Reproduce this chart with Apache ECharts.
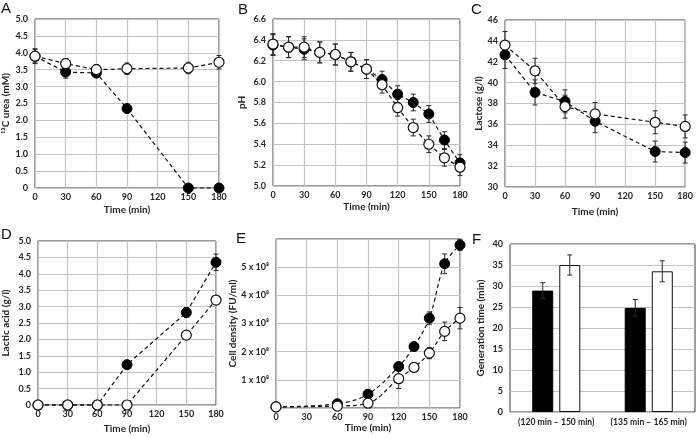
<!DOCTYPE html>
<html><head><meta charset="utf-8">
<script src="https://cdn.jsdelivr.net/npm/echarts@6/dist/echarts.min.js"></script>
<style>html,body{margin:0;padding:0;background:#fff}#c{width:696px;height:438px}</style>
</head><body><div id="c"></div>
<script>
// ---- Panel A: 13C urea (mM)
const timeA = [0, 30, 60, 90, 150, 180];
const ureaFilled = [3.90, 3.43, 3.40, 2.35, 0, 0];
const ureaFilledErr = [0.20, 0.18, 0.12, 0.08, 0, 0];
const ureaOpen = [3.90, 3.68, 3.50, 3.53, 3.55, 3.72];
const ureaOpenErr = [0.22, 0.15, 0.15, 0.17, 0.17, 0.20];
// ---- Panel B: pH
const timeB = [0, 15, 30, 45, 60, 75, 90, 105, 120, 135, 150, 165, 180];
const phFilled = [6.35, 6.33, 6.31, 6.28, 6.26, 6.19, 6.12, 6.02, 5.88, 5.80, 5.69, 5.44, 5.22];
const phFilledErr = [0.10, 0.10, 0.10, 0.10, 0.10, 0.09, 0.09, 0.08, 0.08, 0.08, 0.08, 0.08, 0.08];
const phOpen = [6.36, 6.33, 6.33, 6.28, 6.26, 6.19, 6.12, 5.97, 5.75, 5.56, 5.40, 5.27, 5.18];
const phOpenErr = [0.10, 0.10, 0.10, 0.10, 0.10, 0.09, 0.09, 0.08, 0.08, 0.08, 0.08, 0.08, 0.08];
// ---- Panel C: Lactose (g/l)
const timeC = [0, 30, 60, 90, 150, 180];
const lactoseFilled = [42.66, 39.06, 38.2, 36.3, 33.4, 33.3];
const lactoseFilledErr = [1.3, 1.2, 1.1, 1.1, 1.0, 1.0];
const lactoseOpen = [43.6, 41.13, 37.7, 37.0, 36.2, 35.8];
const lactoseOpenErr = [1.3, 1.2, 1.1, 1.1, 1.1, 1.1];
// ---- Panel D: Lactic acid (g/l)
const timeD = [0, 30, 60, 90, 150, 180];
const lacticFilled = [0, 0, 0, 1.23, 2.82, 4.35];
const lacticFilledErr = [0, 0, 0, 0.05, 0.15, 0.25];
const lacticOpen = [0, 0, 0, 0, 2.13, 3.20];
const lacticOpenErr = [0, 0, 0, 0, 0.05, 0.10];
// ---- Panel E: Cell density (FU/ml), in units of 10^8
const timeE = [0, 60, 90, 120, 135, 150, 165, 180];
const cellFilledE8 = [0.04, 0.15, 0.49, 1.47, 2.18, 3.19, 5.12, 5.79];
const cellFilledErrE8 = [0, 0.03, 0.05, 0.10, 0.08, 0.22, 0.35, 0.20];
const cellOpenE8 = [0.04, 0.07, 0.17, 1.04, 1.44, 1.95, 2.72, 3.19];
const cellOpenErrE8 = [0, 0.02, 0.04, 0.35, 0.15, 0.20, 0.33, 0.38];
// ---- Panel F: Generation time (min)
const genCategories = ['(120 min \u2013 150 min)', '(135 min \u2013 165 min)'];
const genFilled = [28.9, 24.8];
const genFilledErr = [1.9, 2.0];
const genOpen = [35.0, 33.5];
const genOpenErr = [2.4, 2.5];

const FONT = 'Lato';
const TXT = '#262626';
const chart = echarts.init(document.getElementById('c'), null, {renderer: 'canvas'});

const gridPos = [
  {left: 34, top: 19, width: 185, height: 169},
  {left: 273, top: 19, width: 187, height: 167},
  {left: 505, top: 20, width: 184, height: 167},
  {left: 34, top: 241, width: 182, height: 164},
  {left: 276, top: 239, width: 184, height: 169},
  {left: 510, top: 244, width: 185, height: 168}
];
const grid = gridPos.map(g => Object.assign({show: true, borderColor: '#3a3a3a', borderWidth: 1, backgroundColor: 'transparent'}, g));

const splitLine = {show: true, lineStyle: {color: '#c4c4c4', width: 1.2}};
const labelStyle = {fontFamily: FONT, fontSize: 9, fontWeight: 'bold', color: TXT};
const nameStyle = {fontFamily: FONT, fontSize: 10, fontWeight: 'bold', color: TXT};

function timeAxis(gi, nameGap) {
  return {
    type: 'value', gridIndex: gi, min: 0, max: 180, interval: 30,
    axisLine: {show: false}, axisTick: {show: false},
    axisLabel: Object.assign({margin: 5}, labelStyle),
    splitLine: splitLine,
    name: 'Time (min)', nameLocation: 'middle', nameGap: nameGap, nameTextStyle: nameStyle
  };
}
function valAxis(gi, min, max, interval, name, nameGap, fmt) {
  return {
    type: 'value', gridIndex: gi, min: min, max: max, interval: interval,
    axisLine: {show: false}, axisTick: {show: false},
    axisLabel: Object.assign({margin: 7, formatter: fmt}, labelStyle),
    splitLine: splitLine,
    name: name, nameLocation: 'middle', nameRotate: 90, nameGap: nameGap, nameTextStyle: nameStyle
  };
}

const xAxis = [
  timeAxis(0, 17), timeAxis(1, 16), timeAxis(2, 20), timeAxis(3, 19), timeAxis(4, 14),
  {
    type: 'category', gridIndex: 5, data: genCategories,
    axisLine: {show: false}, axisTick: {show: false},
    axisLabel: Object.assign({margin: 6, interval: 0, hideOverlap: false}, labelStyle, {fontSize: 8.6}),
    splitLine: {show: false}
  }
];
const yAxis = [
  valAxis(0, 0, 5, 0.5, '\u00b9\u00b3C urea (mM)', 24, v => v === 0 ? '0' : v.toFixed(1)),
  valAxis(1, 5.0, 6.6, 0.2, 'pH', 26, v => v.toFixed(1)),
  valAxis(2, 30, 46, 2, 'Lactose (g/l)', 21, v => String(v)),
  valAxis(3, 0, 5, 0.5, 'Lactic acid (g/l)', 27, v => v === 0 ? '0' : v.toFixed(1)),
  valAxis(4, 0, 6, 1, 'Cell density (FU/ml)', 38, v => (v === 0 || v === 6) ? '' : (v + ' x 10\u2078')),
  valAxis(5, 0, 40, 5, 'Generation time (min)', 24, v => String(v))
];

function pairs(xs, ys) { return xs.map((x, i) => [x, ys[i]]); }
function errData(xs, ys, es) {
  const out = [];
  xs.forEach((x, i) => { if (es[i] > 0) out.push([x, ys[i] - es[i], ys[i] + es[i]]); });
  return out;
}
function errRender(offset) {
  return function (params, api) {
    const x = api.value(0), lo = api.value(1), hi = api.value(2);
    const p1 = api.coord([x, hi]);
    const p2 = api.coord([x, lo]);
    const cx = p1[0] + offset;
    const cap = 2.5;
    const st = {stroke: '#2a2a2a', lineWidth: 1};
    return {
      type: 'group', children: [
        {type: 'line', shape: {x1: cx, y1: p1[1], x2: cx, y2: p2[1]}, style: st},
        {type: 'line', shape: {x1: cx - cap, y1: p1[1], x2: cx + cap, y2: p1[1]}, style: st},
        {type: 'line', shape: {x1: cx - cap, y1: p2[1], x2: cx + cap, y2: p2[1]}, style: st}
      ]
    };
  };
}
function errSeries(gi, data, offset) {
  return {
    type: 'custom', xAxisIndex: gi, yAxisIndex: gi, data: data, z: 1, silent: true,
    renderItem: errRender(offset || 0), encode: {x: 0, y: [1, 2]}, clip: false
  };
}
function lineSeries(gi, data, filled, smooth) {
  return {
    type: 'line', xAxisIndex: gi, yAxisIndex: gi, data: data, z: 3, clip: false,
    smooth: smooth || false, symbol: 'circle', symbolSize: 10,
    lineStyle: {color: '#111', width: 1.2, type: [4, 3]},
    itemStyle: filled ? {color: '#000', borderColor: '#000', borderWidth: 1} : {color: '#fff', borderColor: '#111', borderWidth: 1.2},
    emphasis: {disabled: true}, animation: false
  };
}

const series = [
  errSeries(0, errData(timeA, ureaFilled, ureaFilledErr)),
  errSeries(0, errData(timeA, ureaOpen, ureaOpenErr)),
  lineSeries(0, pairs(timeA, ureaFilled), true),
  lineSeries(0, pairs(timeA, ureaOpen), false),

  errSeries(1, errData(timeB, phFilled, phFilledErr)),
  errSeries(1, errData(timeB, phOpen, phOpenErr)),
  lineSeries(1, pairs(timeB, phFilled), true),
  lineSeries(1, pairs(timeB, phOpen), false),

  errSeries(2, errData(timeC, lactoseFilled, lactoseFilledErr)),
  errSeries(2, errData(timeC, lactoseOpen, lactoseOpenErr)),
  lineSeries(2, pairs(timeC, lactoseFilled), true),
  lineSeries(2, pairs(timeC, lactoseOpen), false),

  errSeries(3, errData(timeD, lacticFilled, lacticFilledErr)),
  errSeries(3, errData(timeD, lacticOpen, lacticOpenErr)),
  lineSeries(3, pairs(timeD, lacticFilled), true),
  lineSeries(3, pairs(timeD, lacticOpen), false),

  errSeries(4, errData(timeE, cellFilledE8, cellFilledErrE8)),
  errSeries(4, errData(timeE, cellOpenE8, cellOpenErrE8)),
  lineSeries(4, pairs(timeE, cellFilledE8), true, 0.35),
  lineSeries(4, pairs(timeE, cellOpenE8), false, 0.35),

  {
    type: 'bar', xAxisIndex: 5, yAxisIndex: 5, data: genFilled, barWidth: 21, barGap: '29%', z: 2,
    itemStyle: {color: '#000', borderColor: '#000', borderWidth: 1}, animation: false
  },
  {
    type: 'bar', xAxisIndex: 5, yAxisIndex: 5, data: genOpen, barWidth: 21, barGap: '29%', z: 2,
    itemStyle: {color: '#fff', borderColor: '#111', borderWidth: 1}, animation: false
  },
  Object.assign(errSeries(5, errData([0, 1], genFilled, genFilledErr), -13.5), {z: 4}),
  Object.assign(errSeries(5, errData([0, 1], genOpen, genOpenErr), 13.5), {z: 4})
];

const letters = [['A', 1, 1], ['B', 238, 2], ['C', 471, 2], ['D', 1, 227], ['E', 236, 231], ['F', 472, 232]];
const graphic = letters.map(l => ({
  type: 'text', left: l[1], top: l[2], z: 10,
  style: {text: l[0], fontFamily: 'Liberation Sans', fontSize: 15, fill: '#111'}
}));

chart.setOption({
  animation: false,
  backgroundColor: '#fff',
  grid: grid, xAxis: xAxis, yAxis: yAxis, series: series, graphic: graphic
});
</script>
</body></html>
